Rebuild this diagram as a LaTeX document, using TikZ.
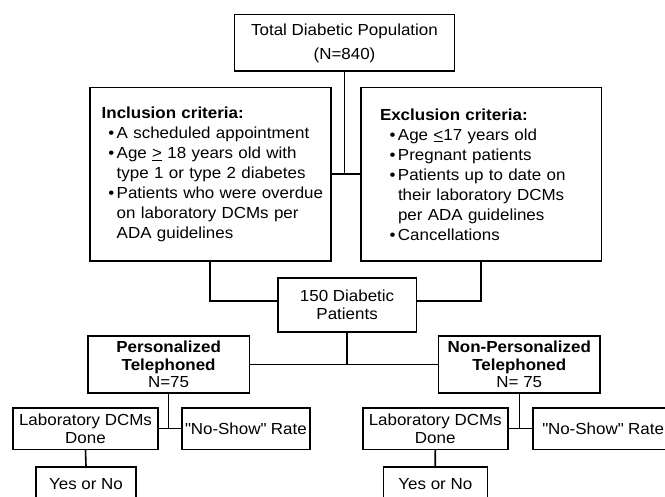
\documentclass[tikz,border=0pt]{standalone}
\usepackage{fontspec}
\setmainfont{Liberation Sans}[FakeStretch=1.06]
\usetikzlibrary{calc}

% bullet line and continuation line of a criteria list
\newcommand{\itm}[2][15pt]{\mbox{\makebox[#1][r]{\textbullet\hspace{2.5pt}}#2}}
\newcommand{\cnt}[2][15pt]{\mbox{\hspace*{#1}#2}}

\begin{document}
\begin{tikzpicture}[
  x={(1pt,0pt)}, y={(0pt,-1pt)},
  box/.style={draw=black, line width=1.6pt, inner sep=0pt, align=center,
              font=\fontsize{16}{17.5}\selectfont},
  crit/.style={box, align=left, font=\fontsize{16}{20}\selectfont},
  link/.style={draw=black, line width=1.6pt},
]
\useasboundingbox (0,0) rectangle (665,497);
\fill[white] (0,0) rectangle (665,497);

% ------------------------------------------------------------------
% population and criteria
% ------------------------------------------------------------------
\node[box, minimum width=220pt, minimum height=56.6pt] (total) at (344.5,43)
     {Total Diabetic Population\\[6.5pt](N=840)};

\node[crit, inner xsep=12pt, text width=217pt, minimum height=173.3pt] (incl) at (210.2,174.3)
     {\textbf{Inclusion criteria:}\\
      \itm{A scheduled appointment}\\
      \itm{Age \underline{>} 18 years old with}\\
      \cnt{type 1 or type 2 diabetes}\\
      \itm{Patients who were overdue}\\
      \cnt{on laboratory DCMs per}\\
      \cnt{ADA guidelines}};

\node[crit, inner xsep=19pt, text width=202.4pt, minimum height=173.3pt] (excl) at (481.2,174.3)
     {\textbf{Exclusion criteria:}\\
      \itm[18pt]{Age \underline{<}17 years old}\\
      \itm[18pt]{Pregnant patients}\\
      \itm[18pt]{Patients up to date on}\\
      \cnt[18pt]{their laboratory DCMs}\\
      \cnt[18pt]{per ADA guidelines}\\
      \itm[18pt]{Cancellations}};

\draw[link] (total.south) -- (total.south |- incl.east);
\draw[link] (incl.east) -- (excl.west);

% ------------------------------------------------------------------
% study sample and the two arms
% ------------------------------------------------------------------
\node[box, minimum width=138.6pt, minimum height=54pt] (pat) at (347.1,305)
     {150 Diabetic\\Patients};

\draw[link] (incl.south) |- ([yshift=4pt]pat.west);
\draw[link] (excl.south) |- ([yshift=4pt]pat.east);

\node[box, minimum width=161.6pt, minimum height=57pt] (pers) at (168.6,364.5)
     {\textbf{Personalized}\\\textbf{Telephoned}\\N=75};
\node[box, minimum width=161.6pt, minimum height=57pt] (npers) at (519.3,364.5)
     {\textbf{Non-Personalized}\\\textbf{Telephoned}\\N= 75};

\draw[link] (pat.south) -- (pat.south |- pers.east);
\draw[link] (pers.east) -- (npers.west);

% ------------------------------------------------------------------
% outcomes of each arm
% ------------------------------------------------------------------
\node[box, minimum width=145pt, minimum height=41.5pt] (labP) at (85.5,428.7)
     {Laboratory DCMs\\Done};
\node[box, minimum width=128pt, minimum height=41.5pt] (showP) at (246,428.7)
     {\textquotedbl No-Show\textquotedbl{} Rate};
\node[box, minimum width=100pt, minimum height=34pt] (yesP) at (86,484)
     {Yes or No};

\node[box, minimum width=145pt, minimum height=41.5pt] (labN) at (435.2,428.7)
     {Laboratory DCMs\\Done};
\node[box, minimum width=141pt, minimum height=41.5pt] (showN) at (603.2,428.7)
     {\textquotedbl No-Show\textquotedbl{} Rate};
\node[box, minimum width=104pt, minimum height=34pt] (yesN) at (435.3,484)
     {Yes or No};

\draw[link] (pers.south) -- (pers.south |- labP.east);
\draw[link] (labP.east) -- (showP.west);
\draw[link] (labP.south) -- (yesP.north);

\draw[link] (npers.south) -- (npers.south |- labN.east);
\draw[link] (labN.east) -- (showN.west);
\draw[link] (labN.south) -- (yesN.north);
\end{tikzpicture}
\end{document}
